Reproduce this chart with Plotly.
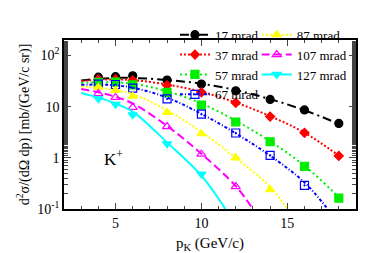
import plotly.graph_objects as go

# ---- data ----
names = ["17 mrad", "37 mrad", "57 mrad", "67 mrad", "87 mrad", "107 mrad", "127 mrad"]
colors = ["#000000", "#ff0000", "#00ee00", "#0000ff", "#ffff00", "#ff00ff", "#00ffff"]

# measured points
x17 = [4, 5, 6, 8, 10, 12, 14, 16, 18]
y17 = [37.5, 38.5, 40, 33, 27.5, 20.3, 13.8, 8.6, 4.7]
x37 = [4, 5, 6, 8, 10, 12, 14, 16, 18]
y37 = [34, 34, 32.5, 26, 19, 11.9, 6.4, 3.08, 1.09]
x57 = [4, 5, 6, 8, 10, 12, 14, 16, 18]
y57 = [29.8, 30.2, 26.5, 19, 10.7, 5.0, 2.06, 0.68, 0.163]
x67 = [4, 5, 6, 8, 10, 12, 14, 16]
y67 = [27.5, 27, 23, 14.1, 7.1, 3.05, 1.12, 0.29]
x87 = [4, 5, 6, 8, 10, 12, 14]
y87 = [24, 20.8, 16, 7.7, 2.95, 1.0, 0.24]
x107 = [4, 5, 6, 8, 10, 12]
y107 = [18, 15.1, 9.7, 4.07, 1.18, 0.274]
x127 = [4, 5, 6, 8, 10]
y127 = [14.2, 11.1, 6.9, 1.88, 0.48]

# fit curves
fx17 = [3, 4, 5, 6, 8, 10, 12, 14, 16, 18]
fy17 = [32.5, 35, 36.3, 36.3, 33, 28, 21, 14, 8.5, 4.6]
fx37 = [3, 4, 5, 6, 8, 10, 12, 14, 16, 18]
fy37 = [31.5, 33.5, 34, 33, 27, 19.5, 12, 6.5, 3.1, 1.1]
fx57 = [3, 4, 5, 6, 8, 10, 12, 14, 16, 18]
fy57 = [29, 30, 29.5, 28, 20, 11.5, 5.3, 2.1, 0.7, 0.17]
fx67 = [3, 4, 5, 6, 8, 10, 12, 14, 16, 17.35]
fy67 = [26.5, 27, 26, 23.5, 15, 7.2, 3.0, 1.1, 0.33, 0.1]
fx87 = [3, 4, 5, 6, 8, 10, 12, 14, 15]
fy87 = [24.5, 23.5, 21, 17.5, 8.5, 3.2, 1.0, 0.27, 0.1]
fx107 = [3, 4, 5, 6, 8, 10, 12, 13]
fy107 = [22, 19, 15.5, 11.5, 4.2, 1.2, 0.28, 0.1]
fx127 = [3, 4, 5, 6, 8, 10, 11.4]
fy127 = [18.5, 15, 11.5, 8, 2.0, 0.45, 0.1]

y_tickvals = [0.1, 1, 10, 100]
y_ticktext = ["10<sup>-1</sup>", "1", "10", "10<sup>2</sup>"]
x_tickvals = [5, 10, 15]

pts = [(x17, y17), (x37, y37), (x57, y57), (x67, y67), (x87, y87), (x107, y107), (x127, y127)]
fits = [(fx17, fy17), (fx37, fy37), (fx57, fy57), (fx67, fy67), (fx87, fy87), (fx107, fy107), (fx127, fy127)]
dashes = ["9px,4px,2px,4px", "2px,2px", "2px,3px", "3px,2px,1px,2px", "2px,2px", "8px,4px", "solid"]
symbols = ["circle", "diamond", "square", "square-open-dot", "triangle-up", "triangle-up-open", "triangle-down"]
sizes = [8, 7, 8, 8, 8, 8, 8]

fig = go.Figure()
for i in range(7):
    fx, fy = fits[i]
    fig.add_trace(go.Scatter(x=fx, y=fy, mode="lines", line=dict(color=colors[i], width=2, dash=dashes[i], shape="spline"),
                             showlegend=False, hoverinfo="skip"))
    px, py = pts[i]
    fig.add_trace(go.Scatter(x=px, y=py, mode="markers",
                             marker=dict(symbol=symbols[i], color=colors[i], size=sizes[i], line=dict(color=colors[i], width=1.2)),
                             showlegend=False))
    fig.add_trace(go.Scatter(x=[None], y=[None], mode="lines+markers", name=names[i],
                             line=dict(color=colors[i], width=2, dash=dashes[i]),
                             marker=dict(symbol=symbols[i], color=colors[i], size=sizes[i], line=dict(color=colors[i], width=1.2)),
                             legend="legend" if i < 4 else "legend2"))

font = "Liberation Serif, Times New Roman, serif"
fig.add_annotation(x=4.9, y=0.0, xref="x", yref="y", text="K<sup>+</sup>", showarrow=False,
                   font=dict(family=font, size=17, color="black"))

leg = dict(font=dict(family=font, size=13, color="black"), bgcolor="rgba(0,0,0,0)", yanchor="top", xanchor="left",
           itemwidth=30, tracegroupgap=0)
fig.update_layout(
    width=374, height=253,
    margin=dict(l=56, r=26, t=17, b=38),
    paper_bgcolor="white", plot_bgcolor="white",
    font=dict(family=font, size=14, color="black"),
    legend=dict(**leg, x=0.38, y=1.12),
    legend2=dict(**leg, x=0.66, y=1.12),
    xaxis=dict(range=[2, 19], tickvals=x_tickvals, ticks="inside", ticklen=6, tickwidth=1, showgrid=False,
               zeroline=False, showline=True, linecolor="black", linewidth=1.5, mirror="ticks",
               minor=dict(dtick=1, ticks="inside", ticklen=3, tickwidth=1),
               title=dict(text="p<sub>K</sub> (GeV/c)", font=dict(family=font, size=15), standoff=8),
               tickfont=dict(family=font, size=14)),
    yaxis=dict(type="log", range=[-1, 2.301], tickvals=y_tickvals, ticktext=y_ticktext, ticks="inside", ticklen=7,
               tickwidth=1, showgrid=False, zeroline=False, showline=True, linecolor="black", linewidth=1.5, mirror="ticks",
               minor=dict(ticks="inside", ticklen=4, tickwidth=1, showgrid=False),
               title=dict(text="d<sup>2</sup>σ/(dΩ dp) [mb/(GeV/c sr)]", font=dict(family=font, size=14), standoff=4),
               tickfont=dict(family=font, size=14)),
)
fig.write_html("out.html")
